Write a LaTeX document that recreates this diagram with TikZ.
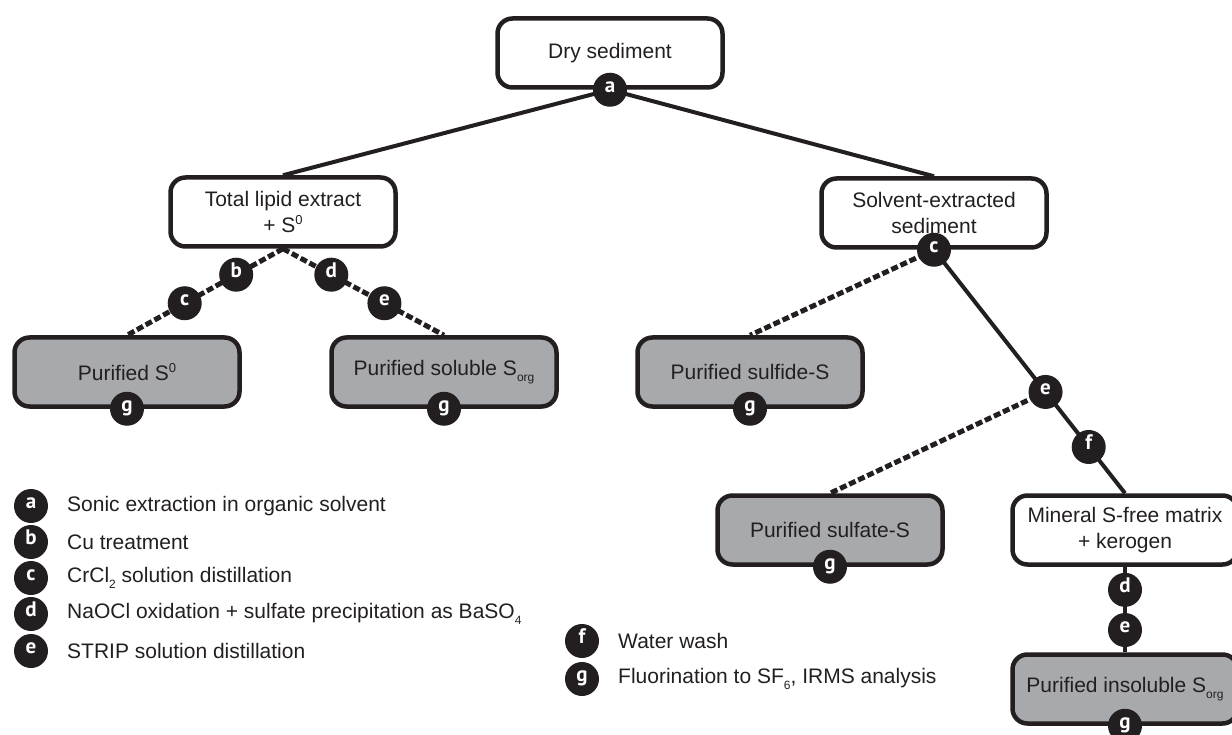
\documentclass[tikz,border=0pt]{standalone}
\usepackage{fontspec}
\setmainfont{Liberation Sans}
\newfontfamily\badgefont{PT Sans}
\usetikzlibrary{calc,backgrounds}
\definecolor{ink}{HTML}{231F20}
\definecolor{boxgray}{HTML}{A7A9AC}
\newcommand\lowsub[1]{\raisebox{-0.5ex}{\fontsize{12}{12}\selectfont #1}}
\newcommand\highsup[1]{\raisebox{0.75ex}{\fontsize{13}{13}\selectfont #1}}
\begin{document}
\begin{tikzpicture}[x=1pt,y=-1pt,
 box/.style={draw=ink, line width=4.5pt, rounded corners=15pt, minimum width=225pt, minimum height=69pt, align=center, text=ink, font=\fontsize{21}{26}\selectfont, inner sep=2pt},
 wbox/.style={box, fill=white},
 gbox/.style={box, fill=boxgray},
 badge/.style={circle, fill=ink, text=white, minimum size=34pt, inner sep=0pt, text height=1ex, text depth=0pt, font=\badgefont\bfseries\fontsize{21}{21}\selectfont},
 solidline/.style={draw=ink, line width=4pt},
 dashline/.style={draw=ink, line width=5pt, dash pattern=on 7pt off 3pt},
 legtext/.style={anchor=west, text=ink, font=\fontsize{21}{25}\selectfont, inner sep=0pt}
]
\useasboundingbox (0,0) rectangle (1232,735);

% boxes
\node[wbox] (dry) at (610,53) {Dry sediment};
\node[wbox] (lipid) at (283,212) {Total lipid extract\\+ S\highsup{0}};
\node[wbox] (solv) at (934,213) {Solvent-extracted\\sediment};
\node[gbox] (s0) at (127,372) {Purified S\highsup{0}};
\node[gbox] (sol) at (444,372) {Purified soluble S\lowsub{org}};
\node[gbox] (sulfide) at (750,372) {Purified sulfide-S};
\node[gbox] (sulfate) at (830,530) {Purified sulfate-S};
\node[wbox] (mineral) at (1125,530) {Mineral S-free matrix\\+ kerogen};
\node[gbox] (insol) at (1125,689) {Purified insoluble S\lowsub{org}};

% connectors
\begin{scope}[on background layer]
\draw[solidline] (dry.south) -- (lipid.north);
\draw[solidline] (dry.south) -- (solv.north);
\draw[dashline] (lipid.south) -- (s0.north);
\draw[dashline] (lipid.south) -- (sol.north);
\draw[dashline] (solv.south) -- (sulfide.north);
\draw[solidline] (solv.south) -- (mineral.north);
\draw[dashline] ($(solv.south)!0.584!(mineral.north)$) -- (sulfate.north);
\draw[solidline] (mineral.south) -- (insol.north);
\end{scope}

% badges on the tree
\node[badge] (ba) at (dry.south) {a};
\node[badge] (bb) at ($(lipid.south)!0.30!(s0.north)$) {b};
\node[badge] (bc) at ($(lipid.south)!0.63!(s0.north)$) {c};
\node[badge] (bd) at ($(lipid.south)!0.30!(sol.north)$) {d};
\node[badge] (be) at ($(lipid.south)!0.63!(sol.north)$) {e};
\node[badge] (sc) at (solv.south) {c};
\node[badge] (se) at ($(solv.south)!0.584!(mineral.north)$) {e};
\node[badge] (sf) at ($(solv.south)!0.81!(mineral.north)$) {f};
\node[badge] (md) at ($(mineral.south)!0.27!(insol.north)$) {d};
\node[badge] (me) at ($(mineral.south)!0.74!(insol.north)$) {e};
\node[badge] (g1) at (s0.south) {g};
\node[badge] (g2) at (sol.south) {g};
\node[badge] (g3) at (sulfide.south) {g};
\node[badge] (g4) at (sulfate.south) {g};
\node[badge] (g5) at (insol.south) {g};

% legend
\node[badge] (la) at (31,506) {a};
\node[legtext] (ta) at (67,506) {Sonic extraction in organic solvent};
\node[badge] (lb) at (31,542) {b};
\node[legtext] (tb) at (67,542) {Cu treatment};
\node[badge] (lc) at (31,578) {c};
\node[legtext] (tc) at (67,578) {CrCl\lowsub{2} solution distillation};
\node[badge] (ld) at (31,614) {d};
\node[legtext] (td) at (67,614) {NaOCl oxidation + sulfate precipitation as BaSO\lowsub{4}};
\node[badge] (le) at (31,651) {e};
\node[legtext] (te) at (67,651) {STRIP solution distillation};
\node[badge] (lf) at (582,641) {f};
\node[legtext] (tf) at (618,641) {Water wash};
\node[badge] (lg) at (582,679) {g};
\node[legtext] (tg) at (618,679) {Fluorination to SF\lowsub{6}, IRMS analysis};
\end{tikzpicture}
\end{document}
